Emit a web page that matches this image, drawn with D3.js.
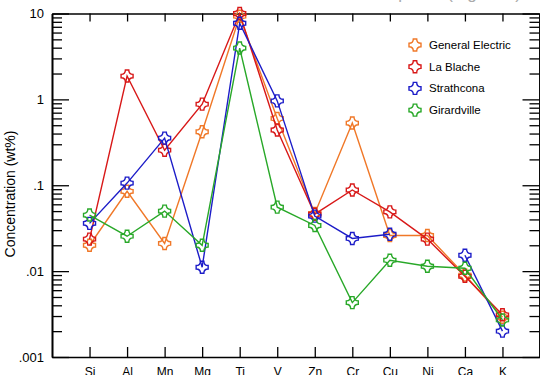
<!DOCTYPE html>
<html>
<head>
<meta charset="utf-8">
<script src="https://cdn.jsdelivr.net/npm/d3@7"></script>
<style>
  body { margin: 0; background: #fff; }
  text { font-family: "Liberation Sans", Arial, sans-serif; }
</style>
</head>
<body>
<div class="chart"></div>
<script>
// elements along the x axis
var elements = ['Si','Al','Mn','Mg','Ti','V','Zn','Cr','Cu','Ni','Ca','K'];

var generalElectric = [0.020, 0.085, 0.021, 0.42, 9.3, 0.60, 0.047, 0.53, 0.026, 0.026, 0.0090, 0.0029];
var laBlache        = [0.0236, 1.87, 0.256, 0.88, 10.0, 0.44, 0.046, 0.088, 0.049, 0.0236, 0.0087, 0.0031];
var strathcona      = [0.036, 0.106, 0.354, 0.0111, 7.7, 0.96, 0.0437, 0.024, 0.0269, null, 0.0153, 0.0020];
var girardville     = [0.045, 0.0255, 0.050, 0.020, 3.96, 0.0556, 0.034, 0.0043, 0.0134, 0.0114, 0.0108, 0.0027];

var seriesNames  = ['General Electric','La Blache','Strathcona','Girardville'];
var seriesColors = ['#f07828','#d81818','#1c1cc8','#28a828'];
var yTickLabels  = ['.001','.01','.1','1','10'];
var yTickValues  = [0.001, 0.01, 0.1, 1, 10];

var series = [generalElectric, laBlache, strathcona, girardville];

var W = 540, H = 375;
var plotL = 52, plotR = 540, plotT = 13.5, plotB = 357;

var svg = d3.select('.chart').append('svg')
    .attr('width', W)
    .attr('height', H);

// caption of the page above, cut off by the crop
svg.append('text')
    .attr('x', 40)
    .attr('y', -1)
    .attr('font-size', '17px')
    .attr('fill', '#aaa')
    .text('concentrations of the elements based on the deposits (Figure 3).');

var x = d3.scalePoint()
    .domain(elements)
    .range([plotL, plotR])
    .padding(1);

var y = d3.scaleLog()
    .domain([0.001, 10])
    .range([plotB, plotT]);

// minor ticks 2..9 per decade
var minor = [];
for (var e = -3; e < 1; e++) {
  for (var m = 2; m <= 9; m++) minor.push(m * Math.pow(10, e));
}

// left axis
var yAx = svg.append('g')
    .attr('class', 'axis y-axis')
    .attr('transform', 'translate(' + plotL + ',0)')
    .call(d3.axisLeft(y).tickValues(yTickValues).tickSizeInner(-17).tickSizeOuter(0).tickPadding(8)
      .tickFormat(function(d, i) { return yTickLabels[i]; }));
svg.append('g')
    .attr('transform', 'translate(' + plotL + ',0)')
    .call(d3.axisLeft(y).tickValues(minor).tickSizeInner(-10).tickSizeOuter(0).tickFormat(''));

// right axis (mirror, no labels)
svg.append('g')
    .attr('transform', 'translate(' + (plotR - 0.5) + ',0)')
    .call(d3.axisRight(y).tickValues(yTickValues).tickSizeInner(-17).tickSizeOuter(0).tickFormat(''));
svg.append('g')
    .attr('transform', 'translate(' + (plotR - 0.5) + ',0)')
    .call(d3.axisRight(y).tickValues(minor).tickSizeInner(-10).tickSizeOuter(0).tickFormat(''));

// bottom and top axes
var xAx = svg.append('g')
    .attr('class', 'axis x-axis')
    .attr('transform', 'translate(0,' + plotB + ')')
    .call(d3.axisBottom(x).tickSizeInner(-10).tickSizeOuter(0).tickPadding(10));
svg.append('g')
    .attr('transform', 'translate(0,' + plotT + ')')
    .call(d3.axisTop(x).tickSizeInner(-8).tickSizeOuter(0).tickFormat(''));

svg.selectAll('.domain').attr('stroke', '#000').attr('stroke-width', 1.6);
svg.selectAll('.tick line').attr('stroke', '#000').attr('stroke-width', 1.3);
yAx.selectAll('text').attr('font-size', '13px').attr('fill', '#000')
    .style('font-family', '"Liberation Sans", Arial, sans-serif');
xAx.selectAll('text').attr('font-size', '12px').attr('fill', '#000')
    .style('font-family', '"Liberation Sans", Arial, sans-serif');

svg.append('text')
    .attr('transform', 'translate(15,194) rotate(-90)')
    .attr('text-anchor', 'middle')
    .attr('font-size', '14px')
    .attr('fill', '#000')
    .text('Concentration (wt%)');

// marker: outlined cross with concave corners
function crossPath(r, w) {
  return 'M' + (-w) + ',' + (-r) + 'L' + w + ',' + (-r) +
    'Q' + w + ',' + (-w) + ' ' + r + ',' + (-w) + 'L' + r + ',' + w +
    'Q' + w + ',' + w + ' ' + w + ',' + r + 'L' + (-w) + ',' + r +
    'Q' + (-w) + ',' + w + ' ' + (-r) + ',' + w + 'L' + (-r) + ',' + (-w) +
    'Q' + (-w) + ',' + (-w) + ' ' + (-w) + ',' + (-r) + 'Z';
}
var marker = crossPath(6, 1.7);

var line = d3.line()
    .defined(function(d) { return d != null; })
    .x(function(d, i) { return x(elements[i]); })
    .y(function(d) { return y(d); });

series.forEach(function(vals, s) {
  var g = svg.append('g');
  g.append('path')
      .attr('d', line(vals))
      .attr('fill', 'none')
      .attr('stroke', seriesColors[s])
      .attr('stroke-width', 1.4);
  g.selectAll('path.pt')
      .data(vals.map(function(v, i) { return {v: v, i: i}; }).filter(function(d) { return d.v != null; }))
      .enter().append('path')
      .attr('class', 'pt')
      .attr('d', marker)
      .attr('transform', function(d) { return 'translate(' + x(elements[d.i]) + ',' + y(d.v) + ')'; })
      .attr('fill', 'none')
      .attr('stroke', seriesColors[s])
      .attr('stroke-width', 1.4);
});

// legend
var legend = svg.append('g').attr('transform', 'translate(415,45)');
seriesNames.forEach(function(name, i) {
  var row = legend.append('g').attr('transform', 'translate(0,' + (i * 21.7) + ')');
  row.append('path')
      .attr('d', marker)
      .attr('fill', 'none')
      .attr('stroke', seriesColors[i])
      .attr('stroke-width', 1.4);
  row.append('text')
      .attr('x', 14)
      .attr('y', 4)
      .attr('font-size', '11.5px')
      .attr('fill', '#000')
      .text(name);
});
</script>
</body>
</html>
